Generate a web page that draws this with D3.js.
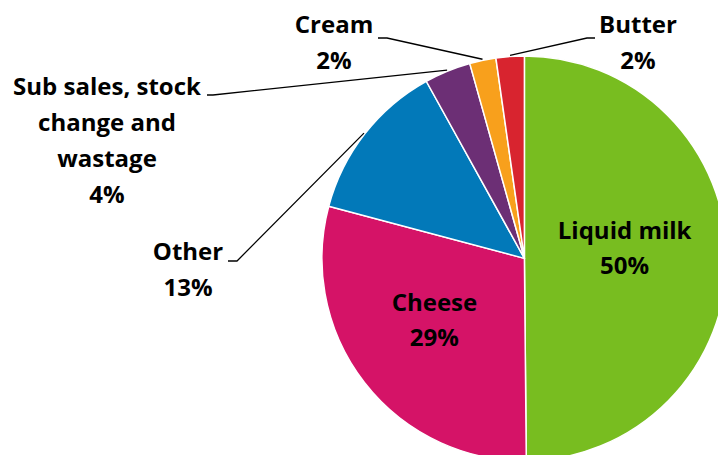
<!DOCTYPE html>
<html>
<head>
<meta charset="utf-8">
<script src="https://cdn.jsdelivr.net/npm/d3@7.9.0/dist/d3.min.js"></script>
<style>
  html, body { margin: 0; padding: 0; background: #fff; overflow: hidden; }
  svg { display: block; font-family: "Open Sans", sans-serif; }
</style>
</head>
<body>
<svg id="chart" width="718" height="455"></svg>
<script>
// Data (percent of milk use), clockwise from 12 o'clock
const categories = ["Liquid milk", "Cheese", "Other", "Sub sales, stock change and wastage", "Cream", "Butter"];
const shares = [49.85, 29.3, 12.8, 3.7, 2.1, 2.25];
const labelLines = [["Liquid milk"], ["Cheese"], ["Other"], ["Sub sales, stock", "change and", "wastage"], ["Cream"], ["Butter"]];
const colours = ["#78BD20", "#D51367", "#0279B9", "#6C2F75", "#F8A01C", "#D8242F"];

// Layout
const svg = d3.select("#chart");
const cx = 524.4, cy = 258.4, radius = 202.5;
const fontSize = 24, capH = 17;
const lineGap = 36;

// inside labels: small nudge from the arc centroid
const nudge = { "Liquid milk": [-1, -10], "Cheese": [-10, 0] };

// outside labels: block centre x, first baseline, leader start and elbow
const outside = {
  "Other":  { x: 188, y: 260, start: [228, 261], elbow: [237, 261] },
  "Sub sales, stock change and wastage": { x: 107, y: 95, start: [207, 95], elbow: [213, 95] },
  "Cream":  { x: 334, y: 33, start: [378, 38], elbow: [387, 38] },
  "Butter": { x: 638, y: 33, start: [595, 38], elbow: [587, 38] }
};

const rows = categories.map((c, i) => ({ name: c, value: shares[i], lines: labelLines[i], colour: colours[i] }));

const pie = d3.pie().sort(null).value(d => d.value);
const arcs = pie(rows);

const arc = d3.arc().innerRadius(0).outerRadius(radius);
const labelArc = d3.arc().innerRadius(radius * 0.5).outerRadius(radius * 0.5);
const edgeArc = d3.arc().innerRadius(radius * 1.005).outerRadius(radius * 1.005);

const g = svg.append("g").attr("transform", `translate(${cx},${cy})`);

g.selectAll("path.slice")
  .data(arcs)
  .join("path")
  .attr("class", "slice")
  .attr("d", arc)
  .attr("fill", d => d.data.colour)
  .attr("stroke", "#fff")
  .attr("stroke-width", 1.5)
  .attr("stroke-linejoin", "round");

const pct = d => Math.round(d.data.value) + "%";

// inside labels
arcs.filter(d => !outside[d.data.name]).forEach(d => {
  const [x0, y0] = labelArc.centroid(d);
  const [nx, ny] = nudge[d.data.name] || [0, 0];
  const x = x0 + nx, y = y0 + ny;
  const all = d.data.lines.concat([pct(d)]);
  // vertically centre the block (cap top of first line to last baseline)
  const first = y - ((all.length - 1) * 35 - capH) / 2;
  const t = g.append("text")
    .attr("text-anchor", "middle")
    .attr("font-weight", "bold")
    .attr("font-size", fontSize)
    .attr("fill", "#000");
  all.forEach((line, k) => {
    t.append("tspan").attr("x", x).attr("y", first + k * 35).text(line);
  });
});

// outside labels with leader lines
arcs.filter(d => outside[d.data.name]).forEach(d => {
  const o = outside[d.data.name];
  const [ex, ey] = edgeArc.centroid(d);
  svg.append("polyline")
    .attr("points", [o.start, o.elbow, [cx + ex, cy + ey]].map(p => p.join(",")).join(" "))
    .attr("fill", "none")
    .attr("stroke", "#000")
    .attr("stroke-width", 1.3);

  const t = svg.append("text")
    .attr("text-anchor", "middle")
    .attr("font-weight", "bold")
    .attr("font-size", fontSize)
    .attr("fill", "#000");
  d.data.lines.concat([pct(d)]).forEach((line, k) => {
    t.append("tspan").attr("x", o.x).attr("y", o.y + k * lineGap).text(line);
  });
});
</script>
</body>
</html>
